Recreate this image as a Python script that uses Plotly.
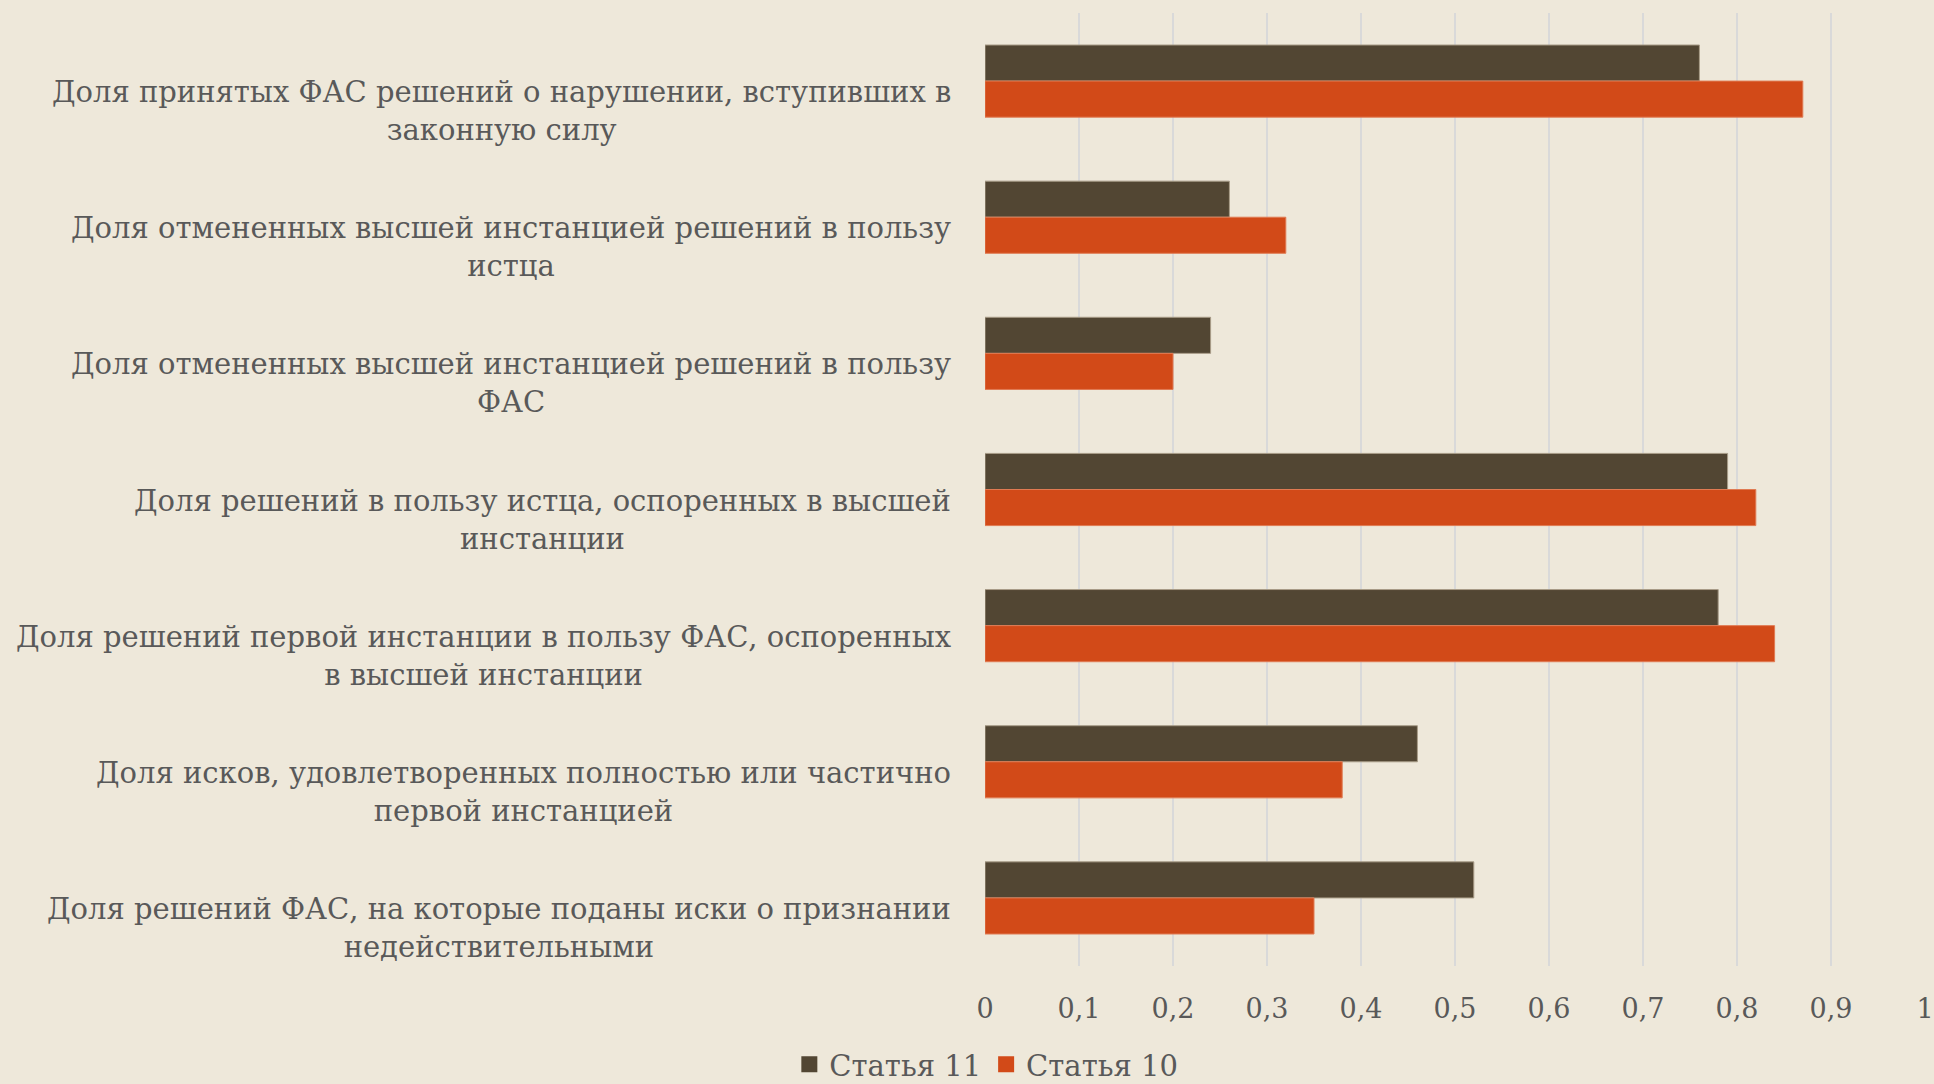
import plotly.graph_objects as go

categories = [
    "Доля принятых ФАС решений о нарушении, вступивших в<br>законную силу",
    "Доля отмененных высшей инстанцией решений в пользу<br>истца",
    "Доля отмененных высшей инстанцией решений в пользу<br>ФАС",
    "Доля решений в пользу истца, оспоренных в высшей<br>инстанции",
    "Доля решений первой инстанции в пользу ФАС, оспоренных<br>в высшей инстанции",
    "Доля исков, удовлетворенных полностью или частично<br>первой инстанцией",
    "Доля решений ФАС, на которые поданы иски о признании<br>недействительными",
]
cat_ids = ["c1", "c2", "c3", "c4", "c5", "c6", "c7"]
series_names = ["Статья 11", "Статья 10"]
stat11 = [0.76, 0.26, 0.24, 0.79, 0.78, 0.46, 0.52]
stat10 = [0.87, 0.32, 0.20, 0.82, 0.84, 0.38, 0.35]
tick_vals = [0, 0.1, 0.2, 0.3, 0.4, 0.5, 0.6, 0.7, 0.8, 0.9, 1]

FONT = "DejaVu Serif"
TXT = "#595959"
C11 = "#524633"
C10 = "#D24A18"

fig = go.Figure()
fig.add_trace(go.Bar(y=cat_ids, x=stat11, name=series_names[0], orientation="h", showlegend=False,
                     marker=dict(color=C11, line=dict(color="#a89c88", width=1))))
fig.add_trace(go.Bar(y=cat_ids, x=stat10, name=series_names[1], orientation="h", showlegend=False,
                     marker=dict(color=C10, line=dict(color="#e07a52", width=1))))
# legend entries with larger square swatches
for nm, col in zip(series_names, [C11, C10]):
    fig.add_trace(go.Scatter(x=[None], y=[None], mode="markers", name=nm,
                             marker=dict(symbol="square", size=18, color=col)))

for cid, lab in zip(cat_ids, categories):
    fig.add_annotation(x=0, xref="paper", y=cid, yref="y", text=lab, showarrow=False,
                       xanchor="right", yanchor="middle", align="center", xshift=-32, yshift=-30,
                       font=dict(family=FONT, size=29, color=TXT))

fig.update_layout(
    width=1934, height=1084,
    margin=dict(l=985, r=9, t=13, b=118, autoexpand=False),
    paper_bgcolor="#EEE8DA", plot_bgcolor="#EEE8DA",
    barmode="group", bargap=0.47, bargroupgap=0,
    separators=", ",
    font=dict(family=FONT, color=TXT, size=27),
    legend=dict(orientation="h", xref="container", yref="container", x=0.51, y=0.018,
                xanchor="center", yanchor="middle", font=dict(family=FONT, size=29, color=TXT),
                itemwidth=30, traceorder="normal", bgcolor="rgba(0,0,0,0)"),
    xaxis=dict(range=[0, 1], tickvals=tick_vals, showgrid=True, gridcolor="#D9D9D9", gridwidth=1.5,
               zeroline=False, showline=False, ticks="", ticklabelstandoff=24, automargin=False,
               tickfont=dict(family=FONT, size=27, color=TXT)),
    yaxis=dict(categoryorder="array", categoryarray=cat_ids, autorange="reversed", automargin=False,
               showticklabels=False, showgrid=False, zeroline=False, showline=False, ticks=""),
)

fig.write_html("out.html", config={"displayModeBar": False},
               post_script="document.body.style.margin='0';document.body.style.background='#EEE8DA';")
